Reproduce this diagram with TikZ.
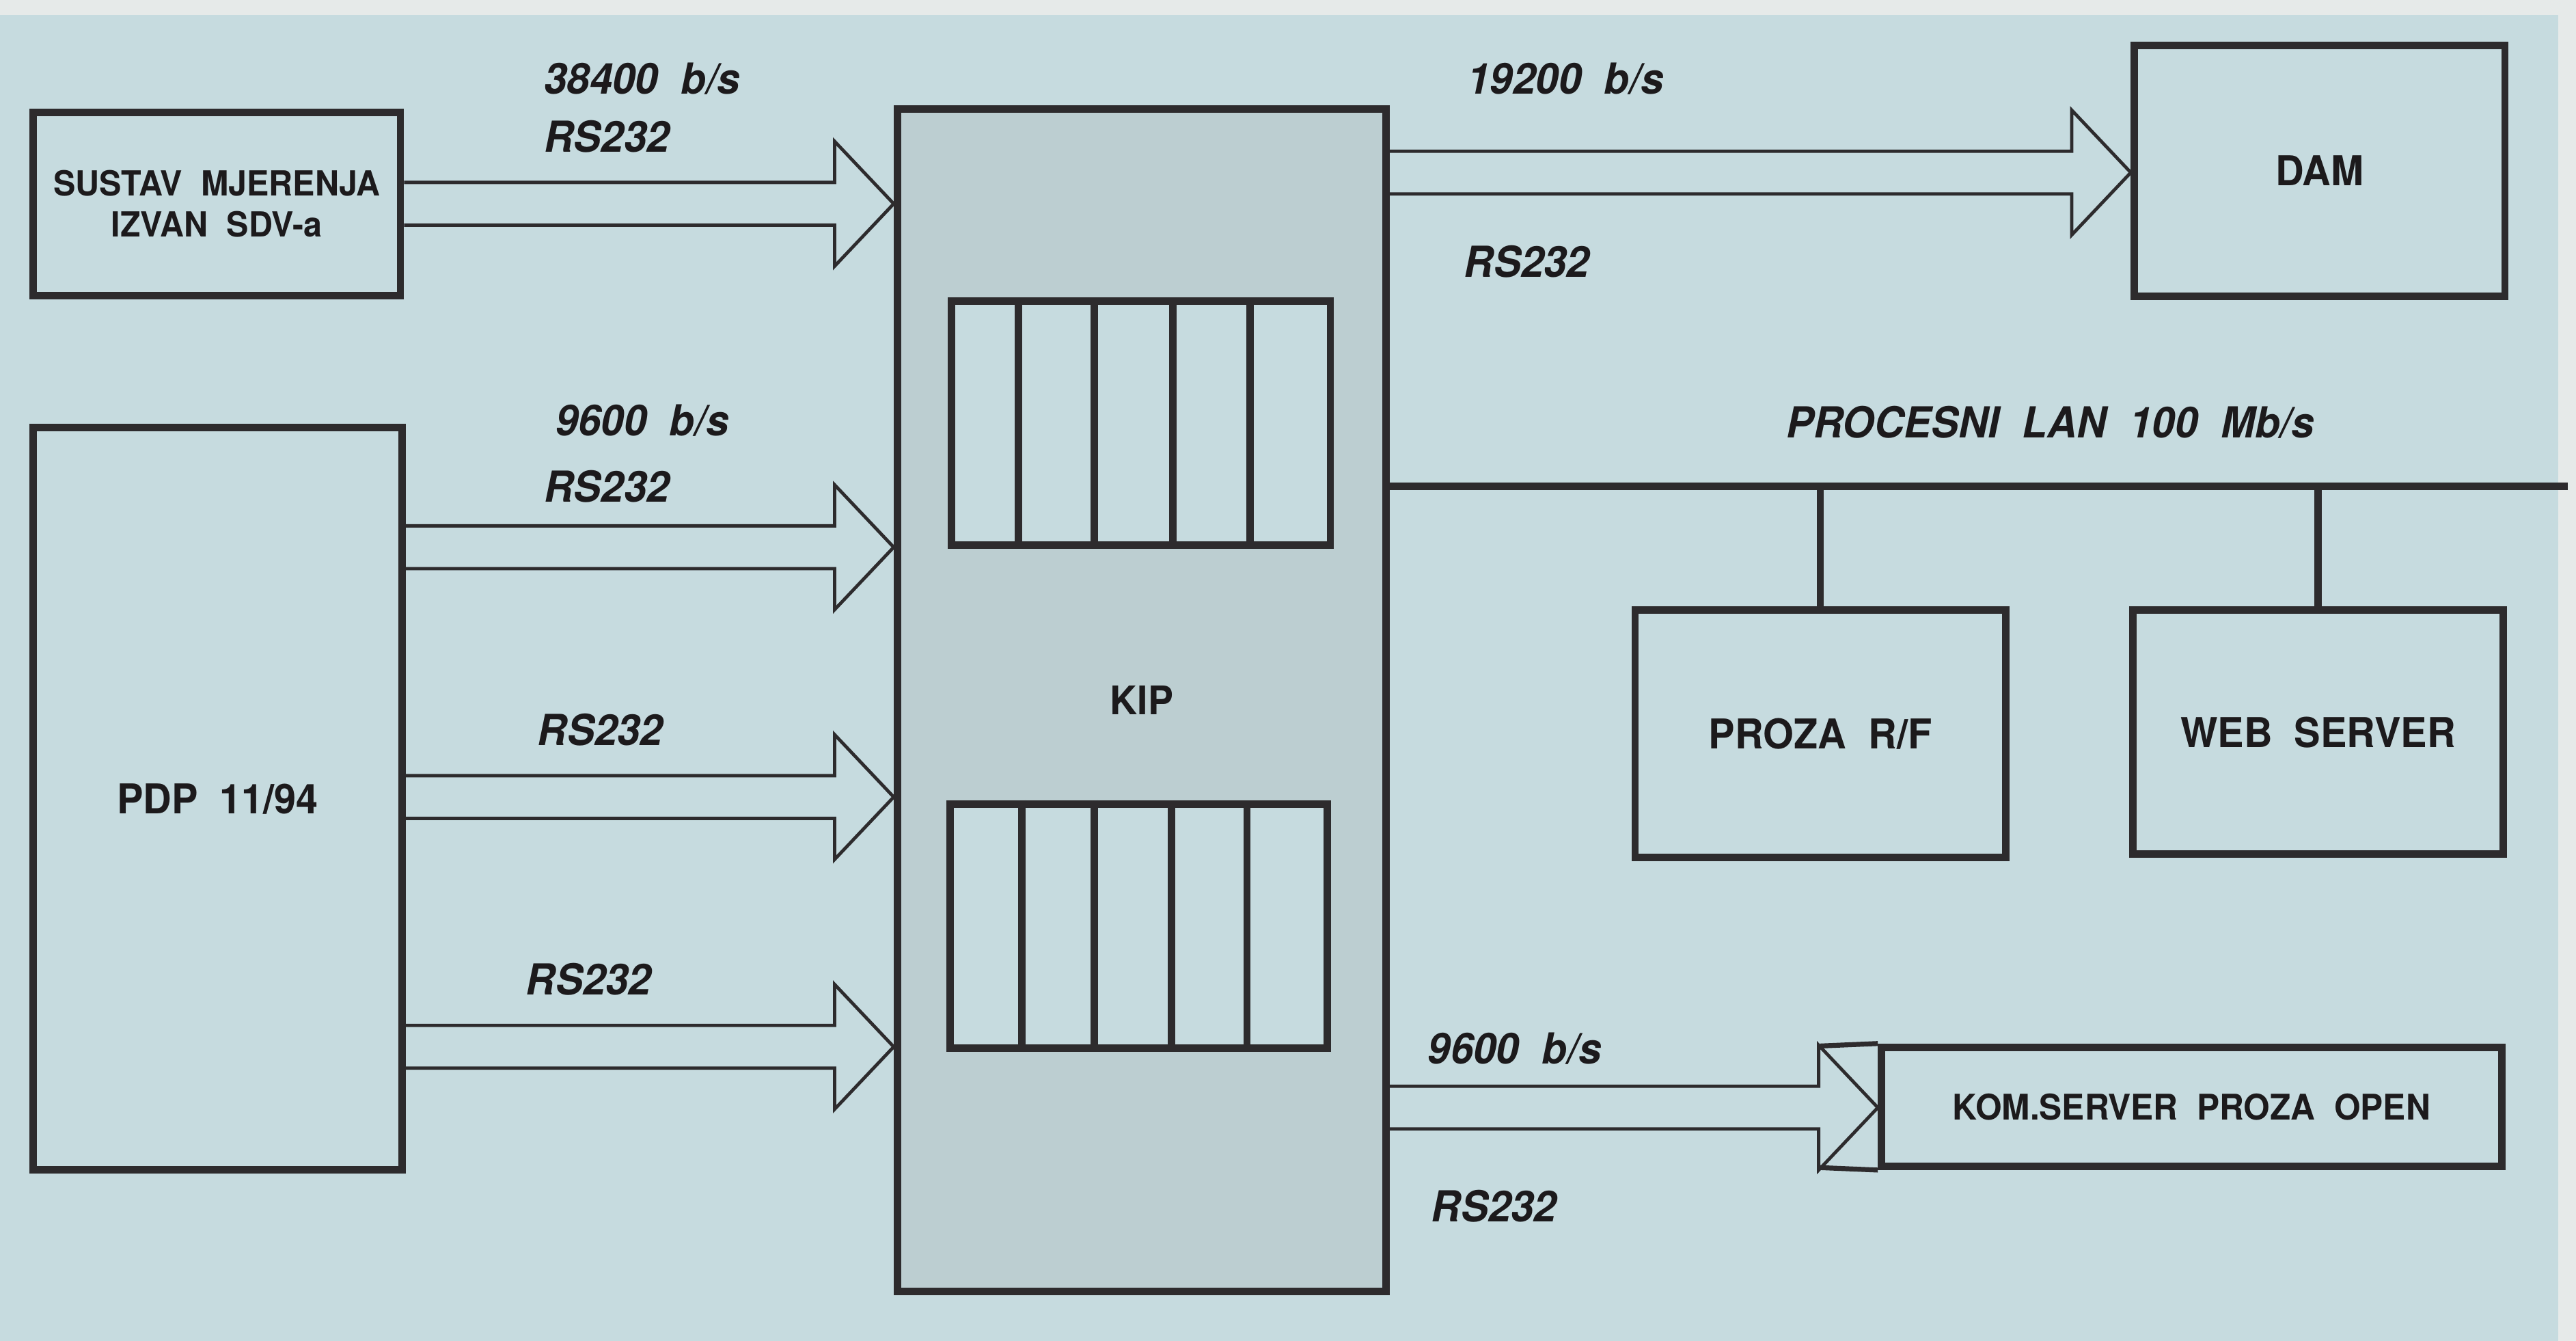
\documentclass[tikz,border=0pt]{standalone}
\usepackage{fontspec}
\setmainfont{TeX Gyre Heros}[FakeStretch=0.96, WordSpace=2]
\usetikzlibrary{calc}
\definecolor{cpaper}{HTML}{E6EAE9}
\definecolor{cbg}{HTML}{C6DBDF}
\definecolor{ckip}{HTML}{BCCED1}
\definecolor{cink}{HTML}{2D2B2D}
\definecolor{ctext}{HTML}{1C1A1C}
\tikzset{
  every picture/.style={line join=miter},
  box/.style={draw=cink, fill=#1, line width=4.5pt, inner sep=0pt, align=center, text=ctext, font=\fontsize{25}{30}\selectfont\bfseries},
  box/.default=cbg,
  wire/.style={draw=cink, line width=4.5pt},
  wide/.style={draw=cink, line width=2pt},
  rate/.style={anchor=west, inner sep=0pt, text=ctext, font=\fontsize{26}{30}\selectfont\bfseries\itshape},
}
% hollow arrow: from node, to node, y of its axis
\newcommand{\fatarrow}[3]{%
  \coordinate (ax) at (0,#3);
  \draw[wide] ($(#1.east |- ax)+(0,-13)$) -- ($(#2.west |- ax)+(-36,-13)$)
    -- ++(0,-25) -- (#2.west |- ax) -- ++(-36,38) -- ++(0,-25)
    -- ($(#1.east |- ax)+(0,13)$);
}

\begin{document}
\begin{tikzpicture}[x=1pt, y=-1pt]
  \useasboundingbox (0,0) rectangle (1568,816);
  \fill[cbg] (0,0) rectangle (1568,816);
  \fill[cpaper] (0,0) rectangle (1568,9);
  \fill[cpaper] (1557,0) rectangle (1568,816);

  \node[box, minimum width=223.5pt, minimum height=111.5pt, font=\fontsize{21}{25}\selectfont\bfseries] (sus) at (132,124) {SUSTAV MJERENJA\\IZVAN SDV-a};
  \node[box, minimum width=224.5pt, minimum height=451.5pt] (pdp) at (132.5,486) {PDP 11/94};

  \node[box=ckip, minimum width=297.5pt, minimum height=719.5pt, font=\fontsize{24}{28}\selectfont\bfseries] (kip) at (695,426) {KIP};
  \node[box, minimum width=230.5pt, minimum height=148.5pt] (kipa) at (694.5,257.5) {};
  \node[box, minimum width=229.5pt, minimum height=148.5pt] (kipb) at (693,563.5) {};
  \foreach \x in {620,666,714,761} \draw[wire] (\x,0 |- kipa.north) -- (\x,0 |- kipa.south);
  \foreach \x in {622,666,713,759} \draw[wire] (\x,0 |- kipb.north) -- (\x,0 |- kipb.south);

  \node[box, minimum width=225.5pt, minimum height=152.5pt] (dam) at (1412,104) {DAM};
  \node[box, minimum width=225.5pt, minimum height=150.5pt] (prf) at (1108,446.5) {PROZA R/F};
  \node[box, minimum width=225.5pt, minimum height=148.5pt] (web) at (1411,445.5) {WEB SERVER};
  \node[box, minimum width=377.5pt, minimum height=72.5pt, font=\fontsize{21.5}{25}\selectfont\bfseries] (kom) at (1334,673.5) {KOM.SERVER PROZA OPEN};

  % procesni LAN
  \coordinate (lanend) at (1563,296);
  \draw[wire] (kip.east |- lanend) -- (lanend);
  \draw[wire] (prf.north) -- (prf.north |- lanend);
  \draw[wire] (web.north) -- (web.north |- lanend);
  \node[rate] (lan) at (1087,257) {PROCESNI LAN 100 Mb/s};

  \fatarrow{sus}{kip}{124}
  \fatarrow{pdp}{kip}{333}
  \fatarrow{pdp}{kip}{485}
  \fatarrow{pdp}{kip}{637}
  \fatarrow{kip}{dam}{105}
  \fatarrow{kip}{kom}{674}
  \draw[wide, line width=3pt] ($(kom.west)+(-35,-37)$) -- (kom.north west);
  \draw[wide, line width=3pt] ($(kom.west)+(-35,37)$) -- (kom.south west);

  \node[rate] (r1) at (331,48) {38400 b/s};
  \node[rate] (r1b) at (331,83) {RS232};
  \node[rate] (r2) at (338,256) {9600 b/s};
  \node[rate] (r2b) at (331,296) {RS232};
  \node[rate] (r3) at (327,444) {RS232};
  \node[rate] (r4) at (320,596) {RS232};
  \node[rate] (r5) at (893,48) {19200 b/s};
  \node[rate] (r5b) at (891,159) {RS232};
  \node[rate] (r6) at (869,638) {9600 b/s};
  \node[rate] (r6b) at (871,734) {RS232};
\end{tikzpicture}
\end{document}
